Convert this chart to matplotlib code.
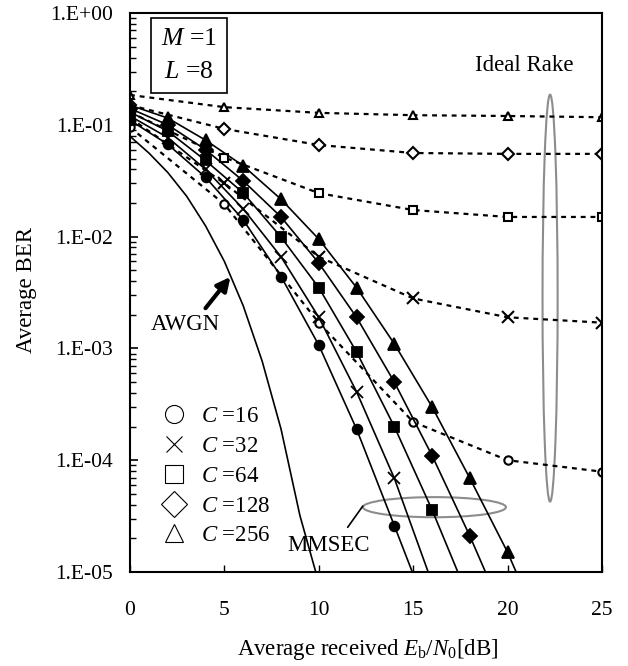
import numpy as np
import matplotlib
matplotlib.use('Agg')
import matplotlib.pyplot as plt
from matplotlib.lines import Line2D
from matplotlib.patches import Ellipse

plt.rcParams['font.family'] = ['Liberation Serif', 'DejaVu Serif']
plt.rcParams['mathtext.fontset'] = 'custom'
plt.rcParams['mathtext.rm'] = 'Liberation Serif'
plt.rcParams['mathtext.it'] = 'Liberation Serif:italic'

# ---- data ----
chips = [16, 32, 64, 128, 256]
markers = ['o', 'x', 's', 'D', '^']

# MMSEC (solid, filled markers every 2 dB)
snr_mmse = [0, 2, 4, 6, 8, 10, 12, 14, 16, 18, 20, 22]
ber_mmse = {
    16:  [0.11, 0.067, 0.034, 0.0141, 0.0044, 0.00107, 1.9e-4, 2.6e-5, 3.5e-6, np.nan, np.nan, np.nan],
    32:  [0.12, 0.077, 0.040, 0.0177, 0.0066, 0.0019, 4.1e-4, 6.9e-5, 8.0e-6, 1.2e-6, np.nan, np.nan],
    64:  [0.13, 0.088, 0.048, 0.0246, 0.0099, 0.0035, 9.3e-4, 2.0e-4, 3.6e-5, 5.5e-6, np.nan, np.nan],
    128: [0.14, 0.10, 0.060, 0.0315, 0.015, 0.0058, 0.0019, 5.0e-4, 1.1e-4, 2.1e-5, 3.5e-6, np.nan],
    256: [0.15, 0.115, 0.073, 0.043, 0.0216, 0.0095, 0.0035, 0.0011, 3.0e-4, 6.9e-5, 1.5e-5, 2.5e-6],
}

# Ideal Rake (dotted, open markers every 5 dB)
snr_rake = [0, 5, 10, 15, 20, 25]
ber_rake = {
    16:  [0.095, 0.0195, 0.0017, 2.2e-4, 1.0e-4, 7.9e-5],
    32:  [0.115, 0.030, 0.0066, 0.0028, 0.0019, 0.0017],
    64:  [0.13, 0.051, 0.0245, 0.0173, 0.015, 0.015],
    128: [0.15, 0.092, 0.066, 0.056, 0.055, 0.055],
    256: [0.185, 0.144, 0.128, 0.122, 0.12, 0.117],
}

# AWGN reference
snr_awgn = [0, 1, 2, 3, 4, 5, 6, 7, 8, 9, 10]
ber_awgn = [0.079, 0.056, 0.0375, 0.023, 0.0125, 0.006, 0.0024, 0.00077, 0.00019, 3.2e-5, 8e-6]

ytick_vals = [1e0, 1e-1, 1e-2, 1e-3, 1e-4, 1e-5]
ytick_labels = ['1.E+00', '1.E-01', '1.E-02', '1.E-03', '1.E-04', '1.E-05']

fig = plt.figure(figsize=(6.28, 6.66), dpi=100)
ax = fig.add_axes([0.207, 0.1411, 0.7516, 0.8393])

ax.plot(snr_awgn, ber_awgn, color='k', lw=1.2)

for c, m in zip(chips, markers):
    ax.plot(snr_rake, ber_rake[c], color='k', lw=1.6, ls=(0, (2.2, 2.2)),
            marker=m, ms=6 if m != 'x' else 8, mfc='white', mec='k',
            mew=1.5)
    ax.plot(snr_mmse, ber_mmse[c], color='k', lw=1.2, marker=m,
            ms=8.5 if m == '^' else (8 if m == 'x' else 7),
            mfc='k', mec='k', mew=1.3)

ax.set_yscale('log')
ax.set_ylim(1e-5, 1)
ax.set_xlim(0, 25)
ax.set_yticks(ytick_vals)
ax.set_yticklabels(ytick_labels)
ax.set_xticks([0, 5, 10, 15, 20, 25])
ax.tick_params(axis='both', which='both', direction='in', labelsize=15.5)
ax.tick_params(axis='y', which='major', length=6, width=1.2, pad=12)
ax.tick_params(axis='y', which='minor', length=4, width=1.0)
ax.tick_params(axis='x', which='major', length=5, width=1.0, pad=21)
for s in ax.spines.values():
    s.set_linewidth(1.5)

ax.set_ylabel('Average BER', fontsize=16.5)
ax.set_xlabel(r'Average received $E_{\rm b}/N_{\rm 0}$[dB]', fontsize=16.5)
ax.yaxis.set_label_coords(-0.198, 0.504)
ax.xaxis.set_label_coords(0.504, -0.116)

# legend
handles = [Line2D([], [], ls='none', marker=m, ms=13 if m != 'x' else 11,
                  mfc='white', mec='k', mew=0.8) for m in markers]
labels = [r'$C$ =%d' % c for c in chips]
ax.legend(handles, labels, loc='lower left', bbox_to_anchor=(0.03, 0.017),
          frameon=False, fontsize=16.5, labelspacing=0.38, handletextpad=0.6,
          handlelength=1.2, borderpad=0.2)

# parameter box
ax.text(0.125, 0.973, '$M$ =1\n$L$ =8', transform=ax.transAxes, fontsize=18.5,
        ha='center', va='top', linespacing=1.65,
        bbox=dict(boxstyle='square,pad=0.38', fc='white', ec='k', lw=1.2))

# annotations
ax.text(20.9, 0.34, 'Ideal Rake', fontsize=16.5, ha='center', va='center')
ax.add_patch(Ellipse((0.89, 0.49), 0.032, 0.728, transform=ax.transAxes,
                     fill=False, ec='#8c8c8c', lw=1.5))
ax.add_patch(Ellipse((0.645, 0.116), 0.303, 0.036, transform=ax.transAxes,
                     fill=False, ec='#8c8c8c', lw=1.5))
ax.text(10.5, 10 ** -4.76, 'MMSEC', fontsize=16.5, ha='center', va='center')
ax.annotate('', xy=(12.33, 10 ** -4.41), xytext=(11.53, 10 ** -4.60),
            arrowprops=dict(arrowstyle='-', lw=1.2, color='k',
                            shrinkA=0, shrinkB=0))
ax.text(2.96, 10 ** -2.79, 'AWGN', fontsize=16.5, ha='center', va='center')
ax.annotate('', xy=(5.32, 10 ** -2.36), xytext=(4.0, 10 ** -2.64),
            arrowprops=dict(arrowstyle='-|>,head_length=0.8,head_width=0.4',
                            lw=3, color='k', shrinkA=0, shrinkB=0))

plt.savefig('out.png', dpi=100)
